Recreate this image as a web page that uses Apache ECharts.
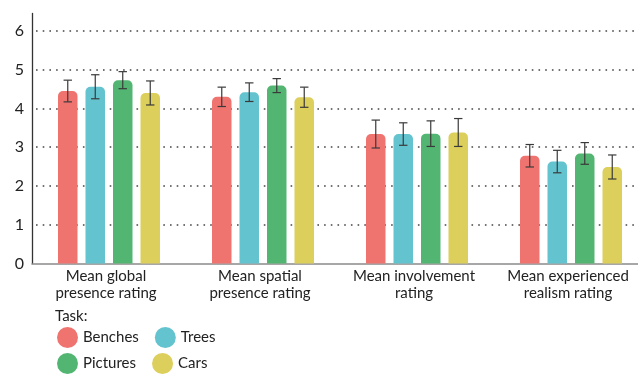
<!DOCTYPE html>
<html>
<head>
<meta charset="utf-8">
<script src="https://cdn.jsdelivr.net/npm/echarts@6/dist/echarts.min.js"></script>
<style>
  html, body { margin: 0; padding: 0; background: #fff; }
  #chart { width: 638px; height: 375px; }
</style>
</head>
<body>
<div id="chart"></div>
<script>
// Rating categories along the x axis
const categories = [
  'Mean global\npresence rating',
  'Mean spatial\npresence rating',
  'Mean involvement\nrating',
  'Mean experienced\nrealism rating'
];

// Task names (legend order)
const tasks = ['Benches', 'Trees', 'Pictures', 'Cars'];

// Mean ratings per task, one value per category
const benchesMean  = [4.45, 4.30, 3.34, 2.78];
const treesMean    = [4.56, 4.42, 3.34, 2.63];
const picturesMean = [4.73, 4.59, 3.35, 2.84];
const carsMean     = [4.40, 4.29, 3.38, 2.49];

// Error bar half-lengths per task
const benchesErr  = [0.28, 0.25, 0.36, 0.29];
const treesErr    = [0.31, 0.24, 0.29, 0.29];
const picturesErr = [0.22, 0.18, 0.33, 0.28];
const carsErr     = [0.31, 0.26, 0.36, 0.31];

// Y axis tick values
const yTicks = [0, 1, 2, 3, 4, 5, 6];

const means = [benchesMean, treesMean, picturesMean, carsMean];
const errs = [benchesErr, treesErr, picturesErr, carsErr];
const colors = ['#EF7470', '#63C3CF', '#52B572', '#DCCF5C'];

const FONT = 'Lato';
const BAR_W = 19.5;
const BAR_GAP_RATIO = 0.41;
const BAR_STEP = BAR_W * (1 + BAR_GAP_RATIO);
const CAP_HALF = 4.2;

const barSeries = tasks.map((name, i) => ({
  name: name,
  type: 'bar',
  data: means[i],
  barWidth: BAR_W,
  barGap: (BAR_GAP_RATIO * 100) + '%',
  itemStyle: { color: colors[i], borderRadius: [5, 5, 0, 0] },
  z: 2
}));

const errorSeries = tasks.map((name, i) => ({
  name: name + ' error',
  type: 'custom',
  data: means[i].map((m, k) => [k, m - errs[i][k], m + errs[i][k]]),
  renderItem: function (params, api) {
    const k = api.value(0);
    const lo = api.coord([k, api.value(1)]);
    const hi = api.coord([k, api.value(2)]);
    const x = lo[0] + (i - 1.5) * BAR_STEP;
    const style = { stroke: '#3a3a3a', lineWidth: 1.2, fill: null };
    return {
      type: 'group',
      children: [
        { type: 'line', shape: { x1: x, y1: lo[1], x2: x, y2: hi[1] }, style: style },
        { type: 'line', shape: { x1: x - CAP_HALF, y1: hi[1], x2: x + CAP_HALF, y2: hi[1] }, style: style },
        { type: 'line', shape: { x1: x - CAP_HALF, y1: lo[1], x2: x + CAP_HALF, y2: lo[1] }, style: style }
      ]
    };
  },
  z: 5,
  silent: true
}));

const legendText = { fontFamily: FONT, fontSize: 15, color: '#222', width: 58 };
const legendBase = {
  left: 57, padding: 0,
  icon: 'circle', itemWidth: 21, itemHeight: 21, itemGap: 16,
  textStyle: legendText
};

const option = {
  animation: false,
  backgroundColor: '#fff',
  color: colors,
  title: {
    text: 'Task:',
    left: 50,
    top: 304,
    textStyle: { fontFamily: FONT, fontSize: 15, fontWeight: 'normal', color: '#222' }
  },
  legend: [
    Object.assign({ data: ['Benches', 'Trees'], top: 327 }, legendBase),
    Object.assign({ data: ['Pictures', 'Cars'], top: 353 }, legendBase)
  ],
  grid: {
    left: 32, top: 13.5, width: 616, height: 250,
    containLabel: false, outerBoundsMode: 'none'
  },
  xAxis: {
    type: 'category',
    data: categories,
    axisLine: { lineStyle: { color: '#8a8a8a', width: 1.6 } },
    axisTick: { show: false },
    axisLabel: {
      fontFamily: FONT, fontSize: 15, color: '#222', lineHeight: 17, margin: 4,
      padding: [0, 6, 0, 0],
      interval: 0
    }
  },
  yAxis: {
    type: 'value',
    min: yTicks[0],
    max: 6.45,
    interval: 1,
    axisLine: { show: true, lineStyle: { color: '#333', width: 1.3 } },
    axisTick: { show: false },
    axisLabel: {
      fontFamily: FONT, fontSize: 16, color: '#222', margin: 8,
      showMaxLabel: false,
      formatter: v => (yTicks.indexOf(v) >= 0 ? String(v) : '')
    },
    splitLine: {
      show: true,
      showMinLine: false,
      showMaxLine: false,
      lineStyle: { color: '#444', width: 1.6, type: [1.6, 5.1], dashOffset: 2.7 }
    }
  },
  series: barSeries.concat(errorSeries)
};

const chart = echarts.init(document.getElementById('chart'), null, { renderer: 'canvas' });
chart.setOption(option);
</script>
</body>
</html>
